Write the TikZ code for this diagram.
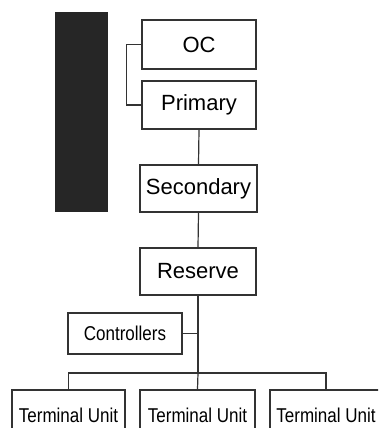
\documentclass[tikz,border=0pt]{standalone}
\usepackage{fontspec}
\setmainfont{Liberation Sans}
\newfontfamily\narrowfont[FakeStretch=0.85]{Liberation Sans}
\begin{document}
\begin{tikzpicture}[x=1pt,y=-1pt,
  box/.style={draw=black!80,line width=1.4pt,inner sep=0pt,fill=white},
  big/.style={box,font=\fontsize{22}{24}\selectfont},
  small/.style={box,font=\narrowfont\fontsize{20}{22}\selectfont},
  link/.style={draw=black!80,line width=1.2pt}]
\useasboundingbox (0,0) rectangle (378,428);
\clip (0,0) rectangle (378,428);
\fill[black!85] (55,12) rectangle (108,212);
\node[big,minimum width=114pt,minimum height=49pt] (oc) at (199,44.5) {OC};
\node[big,minimum width=114pt,minimum height=48pt] (pri) at (199,105) {Primary};
\node[big,minimum width=117pt,minimum height=47pt] (sec) at (198.5,188.5) {Secondary};
\node[big,minimum width=116pt,minimum height=47pt] (res) at (198,271.5) {Reserve};
\node[small,minimum width=114pt,minimum height=41pt] (ctl) at (125,333.5) {Controllers};
\node[small,minimum width=113pt,minimum height=50pt] (tu1) at (68.5,415) {Terminal Unit};
\node[small,minimum width=115pt,minimum height=50pt] (tu2) at (197.5,415) {Terminal Unit};
\node[small,minimum width=112pt,minimum height=50pt] (tu3) at (326,415) {Terminal Unit};
\coordinate (bus) at (198,373);
\path[link] (oc.west) -- ++(-15,0) |- (pri.west);
\path[link] (pri.south) -- (sec.north);
\path[link] (sec.south) -- (res.north);
\path[link] (res.south) -- (bus);
\path[link] (ctl.east) -- (ctl.east -| res.south);
\path[link] (tu1.north) |- (bus) -| (tu3.north);
\path[link] (bus) -- (tu2.north);
\end{tikzpicture}
\end{document}
